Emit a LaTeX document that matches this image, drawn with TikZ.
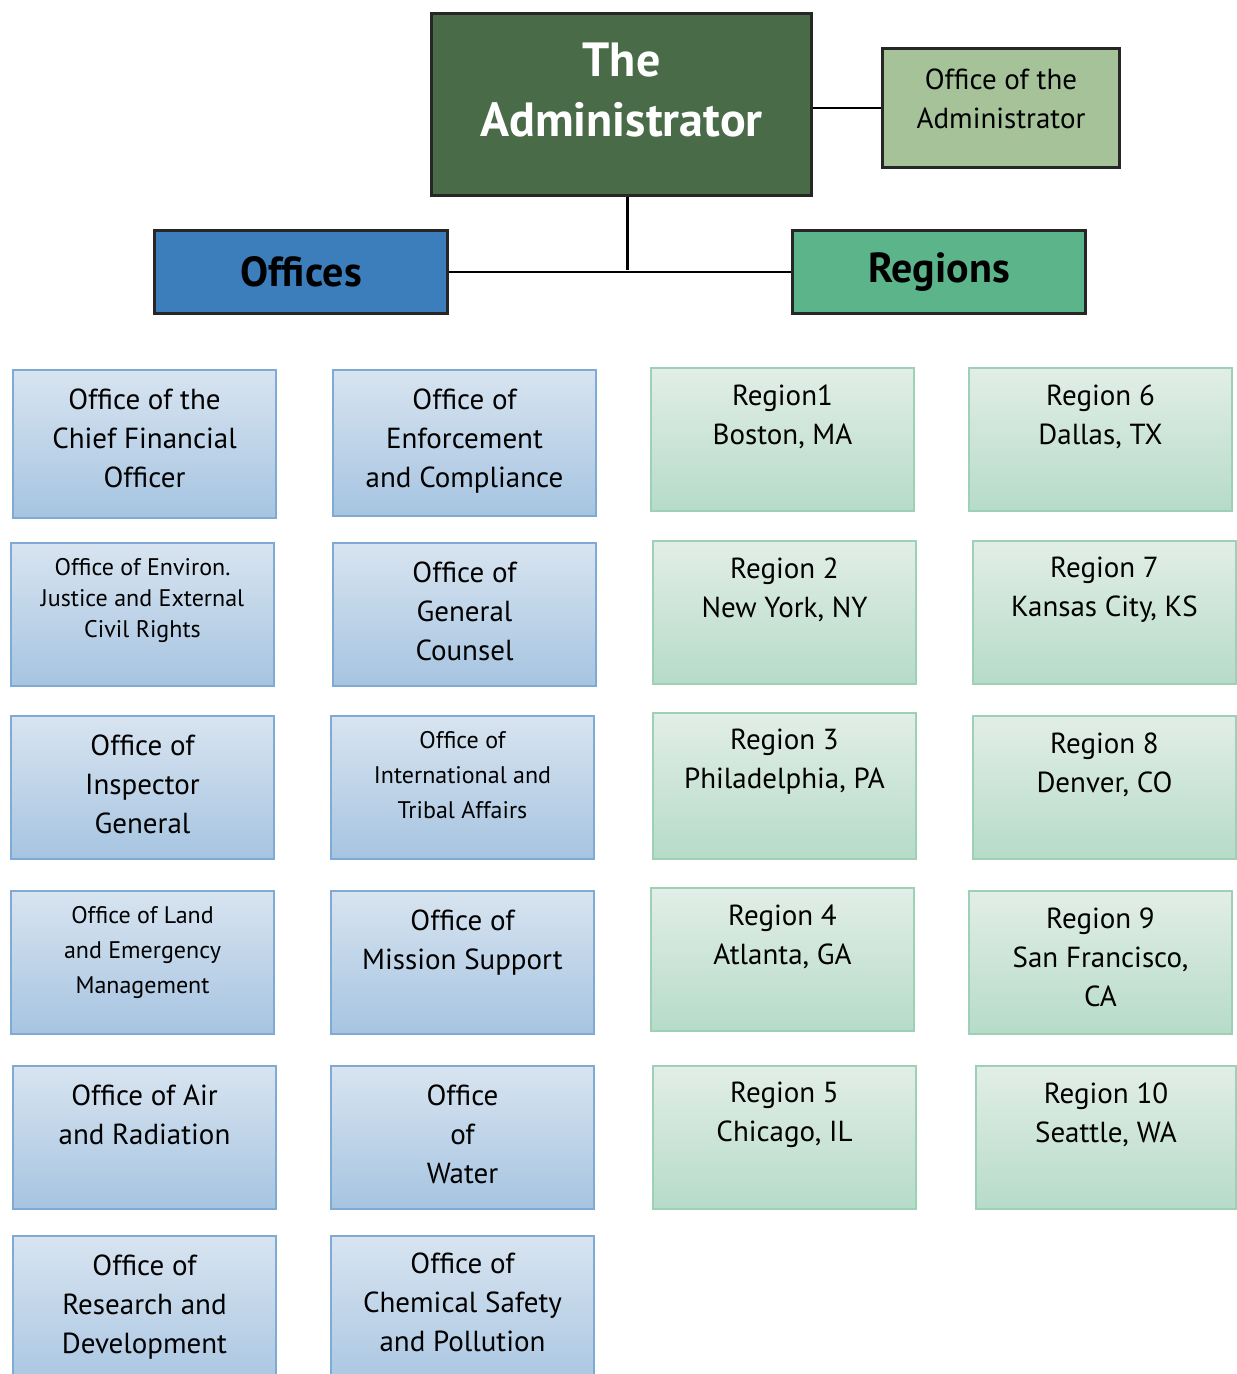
\documentclass[tikz,border=0pt]{standalone}
\usepackage{fontspec}
\setmainfont{PT Sans}
\definecolor{admgreen}{HTML}{4A6B48}
\definecolor{oagreen}{HTML}{A5C299}
\definecolor{offblue}{HTML}{3C7EBB}
\definecolor{reggreen}{HTML}{5CB48A}
\definecolor{otop}{HTML}{D8E4F0}
\definecolor{obot}{HTML}{A6C4E1}
\definecolor{oline}{HTML}{7FAAD4}
\definecolor{rtop}{HTML}{E2EEE7}
\definecolor{rbot}{HTML}{B6DBC9}
\definecolor{rline}{HTML}{9DD0B5}
\begin{document}
\begin{tikzpicture}[x=0.5pt, y=-0.5pt,
    headbox/.style={draw=black!85, line width=1.5pt, anchor=north west, inner sep=0},
    offbox/.style={draw=oline, line width=1pt, top color=otop, bottom color=obot, anchor=north west, inner sep=0, minimum width=131.5pt, minimum height=71.5pt},
    regbox/.style={draw=rline, line width=1pt, top color=rtop, bottom color=rbot, anchor=north west, inner sep=0, minimum width=131.5pt, minimum height=71.5pt},
    boxtext/.style={anchor=north, align=center, inner sep=0, yshift=-9.5pt, font={\fontsize{14.5pt}{19.5pt}\selectfont}},
    smalltext/.style={anchor=north, align=center, inner sep=0, yshift=-8pt, font={\fontsize{12pt}{15.5pt}\selectfont}}]
    \useasboundingbox (0,0) rectangle (1236,1374);
    % top of the chart
    \node[headbox, fill=admgreen, minimum width=190pt, minimum height=91pt,
        label={[anchor=north, align=center, inner sep=0, yshift=-15.5pt, text=white, font={\fontsize{24pt}{30pt}\selectfont\bfseries}]north:The\\Administrator}] (adm) at (430,12) {};
    \node[headbox, fill=oagreen, minimum width=118.5pt, minimum height=59.5pt,
        label={[boxtext, yshift=-1pt]north:Office of the\\Administrator}] (oa) at (881,47) {};
    \node[headbox, fill=offblue, minimum width=146.5pt, minimum height=41.5pt, font={\fontsize{21pt}{24pt}\selectfont\bfseries}] (off) at (153,229) {Offices};
    \node[headbox, fill=reggreen, minimum width=146.5pt, minimum height=41.5pt, font={\fontsize{21pt}{24pt}\selectfont\bfseries}] (reg) at (791,229) {Regions};
    \coordinate (j) at (627,270);
    \draw[line width=1.5pt] (adm.south -| j) -- (j);
    \draw[line width=1pt] (off.east) -- (reg.west);
    \draw[line width=1pt] (adm.east |- oa.west) -- (oa.west);
    % offices
    \node[offbox, minimum height=74pt, label={[boxtext]north:Office of the\\Chief Financial\\Officer}] (cfo) at (12,369) {};
    \node[offbox, minimum height=73pt, label={[boxtext]north:Office of\\Enforcement\\and Compliance}] (oeca) at (332,369) {};
    \node[offbox, label={[smalltext]north:Office of Environ.\\Justice and External\\Civil Rights}] (ejcr) at (10,542) {};
    \node[offbox, label={[boxtext]north:Office of\\General\\Counsel}] (ogc) at (332,542) {};
    \node[offbox, label={[boxtext]north:Office of\\Inspector\\General}] (oig) at (10,715) {};
    \node[offbox, label={[smalltext, font={\fontsize{12pt}{17.5pt}\selectfont}]north:Office of\\International and\\Tribal Affairs}] (oita) at (330,715) {};
    \node[offbox, label={[smalltext, font={\fontsize{12pt}{17.5pt}\selectfont}]north:Office of Land\\and Emergency\\Management}] (olem) at (10,890) {};
    \node[offbox, label={[boxtext]north:Office of\\Mission Support}] (oms) at (330,890) {};
    \node[offbox, label={[boxtext]north:Office of Air\\and Radiation}] (oar) at (12,1065) {};
    \node[offbox, label={[boxtext]north:Office\\of\\Water}] (ow) at (330,1065) {};
    \node[offbox, minimum height=80pt, label={[boxtext]north:Office of\\Research and\\Development}] (ord) at (12,1235) {};
    \node[offbox, minimum height=80pt, label={[boxtext, yshift=1pt]north:Office of\\Chemical Safety\\and Pollution}] (ocsp) at (330,1235) {};
    % regions
    \node[regbox, label={[boxtext, yshift=1pt]north:Region1\\Boston, MA}] (r1) at (650,367) {};
    \node[regbox, label={[boxtext, yshift=1pt]north:Region 2\\New York, NY}] (r2) at (652,540) {};
    \node[regbox, minimum height=73pt, label={[boxtext, yshift=1pt]north:Region 3\\Philadelphia, PA}] (r3) at (652,712) {};
    \node[regbox, label={[boxtext, yshift=1pt]north:Region 4\\Atlanta, GA}] (r4) at (650,887) {};
    \node[regbox, label={[boxtext, yshift=1pt]north:Region 5\\Chicago, IL}] (r5) at (652,1065) {};
    \node[regbox, label={[boxtext, yshift=1pt]north:Region 6\\Dallas, TX}] (r6) at (968,367) {};
    \node[regbox, label={[boxtext, yshift=1pt]north:Region 7\\Kansas City, KS}] (r7) at (972,540) {};
    \node[regbox, label={[boxtext, yshift=1pt]north:Region 8\\Denver, CO}] (r8) at (972,715) {};
    \node[regbox, label={[boxtext, yshift=1pt]north:Region 9\\San Francisco,\\CA}] (r9) at (968,890) {};
    \node[regbox, minimum width=130pt, label={[boxtext, yshift=1pt]north:Region 10\\Seattle, WA}] (r10) at (975,1065) {};
\end{tikzpicture}
\end{document}
